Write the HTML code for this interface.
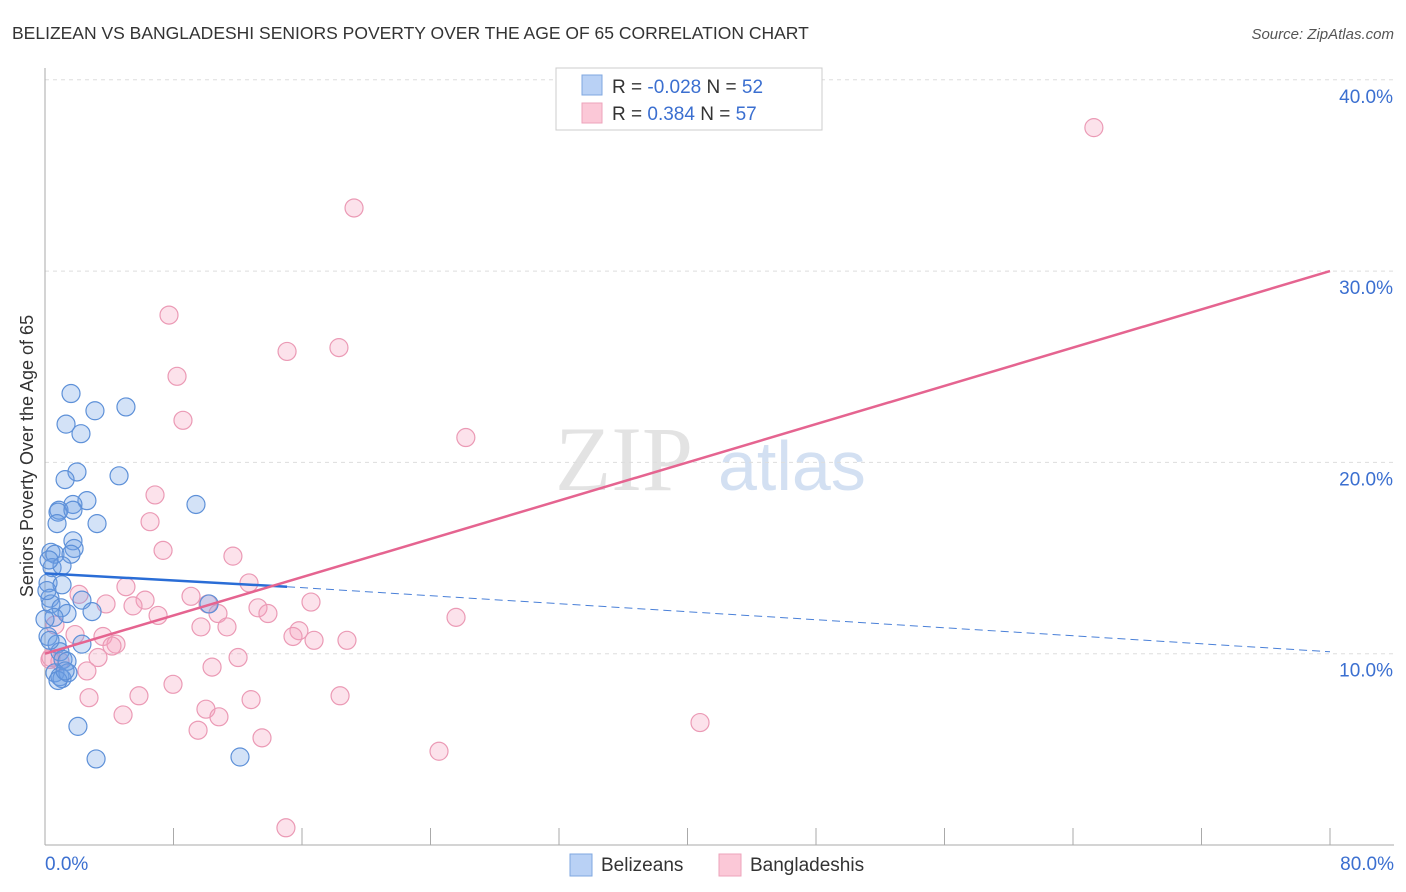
<!DOCTYPE html>
<html><head><meta charset="utf-8"><style>
body{margin:0;background:#fff;font-family:"Liberation Sans",sans-serif;}
svg{display:block}
</style></head><body>
<svg id="chart" width="1406" height="892" xmlns="http://www.w3.org/2000/svg">
<text x="12" y="39" font-size="17.5" fill="#333">BELIZEAN VS BANGLADESHI SENIORS POVERTY OVER THE AGE OF 65 CORRELATION CHART</text>
<text x="1394" y="39" font-size="15" fill="#555" text-anchor="end" font-style="italic">Source: ZipAtlas.com</text>
<g>
<text x="555" y="490" font-size="92" fill="#ddd" font-family="Liberation Serif,serif" opacity="0.8">ZIP</text>
<text x="718" y="490" font-size="70" fill="#c9d9f0" opacity="0.8">atlas</text>
</g>
<g id="grid"></g>
<g id="axes"></g>
<g id="marks"></g>
<text transform="translate(33,456) rotate(-90)" font-size="18" fill="#333" text-anchor="middle">Seniors Poverty Over the Age of 65</text>
<g>
<rect x="556" y="68" width="266" height="62" fill="#fff" stroke="#ccc"/>
<rect x="582" y="75" width="20" height="20" fill="#b9d1f5" stroke="#7fa7e0"/>
<rect x="582" y="103" width="20" height="20" fill="#fbc8d7" stroke="#eea3bb"/>
<text x="612" y="93" font-size="19" fill="#333">R = <tspan fill="#3b6fd0">-0.028</tspan>   N = <tspan fill="#3b6fd0">52</tspan></text>
<text x="612" y="120" font-size="19" fill="#333">R =   <tspan fill="#3b6fd0">0.384</tspan>   N = <tspan fill="#3b6fd0">57</tspan></text>
</g>
<g>
<rect x="570" y="854" width="22" height="22" fill="#b9d1f5" stroke="#7fa7e0"/>
<text x="601" y="871" font-size="19" fill="#333">Belizeans</text>
<rect x="719" y="854" width="22" height="22" fill="#fbc8d7" stroke="#eea3bb"/>
<text x="750" y="871" font-size="19" fill="#333">Bangladeshis</text>
</g>
</svg>
<script>
const blueX=[1.62,1.31,3.11,5.04,2.24,1.99,4.61,1.25,9.40,2.61,1.74,0.87,0.81,1.74,0.75,3.24,1.74,1.81,0.37,0.62,1.62,0.44,1.06,0.19,1.06,0.31,2.30,0.37,1.00,10.21,2.93,1.37,0.19,0.75,0.93,1.12,1.37,0.62,0.93,1.06,1.43,2.30,2.05,3.18,12.14,0.25,0.12,0.56,0,0.31,0.81,1.25];
const blueY=[23.6,22.0,22.7,22.9,21.5,19.5,19.3,19.1,17.8,18.0,17.8,17.5,17.4,17.5,16.8,16.8,15.9,15.5,15.3,15.2,15.2,14.5,14.6,13.7,13.6,12.9,12.8,12.6,12.4,12.6,12.2,12.1,10.9,10.5,10.1,9.7,9.6,9.0,8.8,8.7,9.0,10.5,6.2,4.5,4.6,14.9,13.3,11.9,11.8,10.7,8.6,9.1];
const pinkX=[65.3,19.24,7.72,18.3,15.07,8.22,8.59,26.2,6.85,6.54,7.35,11.7,12.7,5.04,2.12,9.09,6.23,3.80,5.48,16.56,10.15,13.26,13.88,7.04,10.77,11.33,9.71,25.59,15.81,15.44,16.75,18.8,3.61,4.42,4.17,1.87,0.37,3.30,0.93,2.61,12.02,10.40,2.74,5.85,7.97,18.37,12.83,4.86,10.02,10.83,9.53,13.51,24.53,40.78,15.0,0.62,0.31];
const pinkY=[37.5,33.3,27.7,26.0,25.8,24.5,22.2,21.3,18.3,16.9,15.4,15.1,13.7,13.5,13.1,13.0,12.8,12.6,12.5,12.7,12.6,12.4,12.1,12.0,12.1,11.4,11.4,11.9,11.2,10.9,10.7,10.7,10.9,10.5,10.4,11.0,9.8,9.8,9.6,9.1,9.8,9.3,7.7,7.8,8.4,7.8,7.6,6.8,7.1,6.7,6.0,5.6,4.9,6.4,0.9,11.5,9.7];
const yTicks=[10,20,30,40];
const yTickLabels=["10.0%","20.0%","30.0%","40.0%"];
const xTicks=[0,8,16,24,32,40,48,56,64,72,80];
const blueTrend=[14.2,13.5,10.1]; // at x=0, 15.07, 80
const pinkTrend=[10.0,30.0];      // at x=0, 80

const NS="http://www.w3.org/2000/svg";
const X=v=>45+v*(1285/80);
const Y=v=>845-v*19.13;
function mk(tag,attrs,parent){const e=document.createElementNS(NS,tag);for(const k in attrs)e.setAttribute(k,attrs[k]);document.getElementById(parent).appendChild(e);return e;}

yTicks.forEach((t,i)=>{
 let l=mk('line',{x1:45,x2:1394,y1:Y(t),y2:Y(t),stroke:'#ddd','stroke-dasharray':'4,4'},'grid');
 
 
 let tx=mk('text',{x:1393,y:Y(t)+23,'font-size':19,fill:'#3b6fd0','text-anchor':'end'},'axes');
 tx.textContent=yTickLabels[i];
 
 
});
let ax=mk('line',{x1:45,x2:45,y1:68,y2:845,stroke:'#aaa'},'axes');


let bx=mk('line',{x1:45,x2:1394,y1:845,y2:845,stroke:'#aaa'},'axes');


xTicks.forEach(t=>{
 let l=mk('line',{x1:X(t),x2:X(t),y1:828,y2:845,stroke:'#aaa'},'axes');
 
 
});
let x0=mk('text',{x:45,y:870,'font-size':19,fill:'#3b6fd0'},'axes');x0.textContent='0.0%';


let x1=mk('text',{x:1394,y:870,'font-size':19,fill:'#3b6fd0','text-anchor':'end'},'axes');x1.textContent='80.0%';



pinkX.forEach((v,i)=>{
 let c=mk('circle',{cx:X(v),cy:Y(pinkY[i]),r:9,fill:'rgba(244,160,190,0.3)',stroke:'#eb9ab5','stroke-width':1.2},'marks');
 
 
});
blueX.forEach((v,i)=>{
 let c=mk('circle',{cx:X(v),cy:Y(blueY[i]),r:9,fill:'rgba(110,160,230,0.3)',stroke:'#5d90d8','stroke-width':1.2},'marks');
 
 
});
let bt=mk('line',{x1:X(0),y1:Y(blueTrend[0]),x2:X(15.07),y2:Y(blueTrend[1]),stroke:'#2a6dd6','stroke-width':2.5},'marks');


let bd=mk('line',{x1:X(15.07),y1:Y(blueTrend[1]),x2:X(80),y2:Y(blueTrend[2]),stroke:'#4a80d8','stroke-width':1,'stroke-dasharray':'8,5'},'marks');


let pt=mk('line',{x1:X(0),y1:Y(pinkTrend[0]),x2:X(80),y2:Y(pinkTrend[1]),stroke:'#e56490','stroke-width':2.5},'marks');


</script>
</body></html>
